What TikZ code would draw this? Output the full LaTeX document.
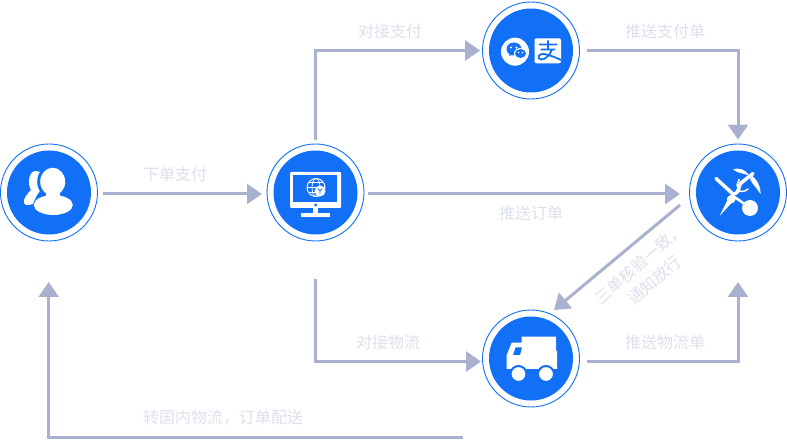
\documentclass[tikz,border=0pt]{standalone}
\usepackage{xcolor}
\usepackage{fontspec}
\setmainfont{Noto Sans CJK SC}
\usetikzlibrary{arrows.meta,positioning}

\definecolor{hubblue}{HTML}{1170F5}
\definecolor{flowgray}{HTML}{A9B1CF}
\definecolor{notegray}{HTML}{DDE0EC}

\tikzset{
    hub/.style={circle, draw=hubblue, line width=0.9pt, fill=white, minimum size=97pt, inner sep=0pt},
    hubcore/.style={circle, fill=hubblue, minimum size=84pt, inner sep=0pt},
    flow/.style={color=flowgray, line width=3pt, -{Triangle[length=15pt,width=20pt]}},
    note/.style={text=notegray, font=\fontsize{16}{19}\selectfont, inner sep=0pt, align=center}
}

\begin{document}
\begin{tikzpicture}[x=1pt, y=-1pt]
    \useasboundingbox (0,0) rectangle (787,443);

    % hubs
    \node[hub] (user) at (49,192.5) {};
    \node[hubcore] (usercore) at (user) {};
    \node[hub] (monitor) at (315.5,192.5) {};
    \node[hubcore] (monitorcore) at (monitor) {};
    \node[hub] (pay) at (531,50.5) {};
    \node[hubcore] (paycore) at (pay) {};
    \node[hub] (customs) at (738,192.5) {};
    \node[hubcore] (customscore) at (customs) {};
    \node[hub] (truck) at (531,358.5) {};
    \node[hubcore] (truckcore) at (truck) {};

    % free ends
    \coordinate (monitordown) at (315.5,279);
    \coordinate (userup) at (48.7,282);
    \coordinate (fraudup) at (738,282);
    \coordinate (truckback) at (463,437);
    \coordinate (diagfrom) at (680,205);
    \coordinate (diagto) at (554,310);
    \coordinate (truckin) at (481,361.5);
    \coordinate (truckout) at (587,361.5);
    \coordinate (orderin) at (262,194);
    \coordinate (orderout) at (103,194);
    \coordinate (pushin) at (680,194);
    \coordinate (pushout) at (368,194);

    % connectors
    \draw[flow] (orderout) -- (orderin);
    \draw[flow] (pushout) -- (pushin);
    \draw[flow, shorten <=4pt, shorten >=2pt] (monitor.north) |- (pay.west);
    \draw[flow, shorten <=7pt, shorten >=4pt] (pay.east) -| (customs.north);
    \draw[flow] (diagfrom) -- (diagto);
    \draw[flow] (monitordown) |- (truckin);
    \draw[flow] (truckout) -| (fraudup);
    \draw[flow] (truckback) -| (userup);

    % labels
    \node[note] (ordertext) at (175,174) {下单支付};
    \node[note] (paytext) at (390,31) {对接支付};
    \node[note] (paybilltext) at (665,31) {推送支付单};
    \node[note] (pushtext) at (531,213) {推送订单};
    \node[note] (logtext) at (388,342) {对接物流};
    \node[note] (logbilltext) at (665,342) {推送物流单};
    \node[note] (hometext) at (223,418) {转国内物流，订单配送};
    \node[note, rotate=41] (checktext) at (647,272) {三单核验一致，\\[3pt]通知放行};

    % user icon
    \fill[white] (35,171) .. controls (29,172) and (27,183) .. (31,190)
        .. controls (27,194) and (23,199) .. (24,203)
        .. controls (25,206) and (29,205) .. (33,204)
        .. controls (36,196) and (39,191) .. (42,189)
        .. controls (38,183) and (38,176) .. (41,172) -- cycle;
    \fill[hubblue] (52.7,181.7) ellipse (15.5pt and 17pt);
    \fill[white] (52.7,181.7) ellipse (12.5pt and 14pt);
    \fill[white] (53.3,205) ellipse (19.5pt and 10pt);
    \fill[white] (46,188) rectangle (60,198);

    % monitor icon
    \fill[white, rounded corners=1pt] (290,172) rectangle (341,208);
    \fill[hubblue] (293,175) rectangle (337,202);
    \fill[hubblue] (315.7,205) circle (1.6pt);
    \fill[white] (313,208) rectangle (318,214);
    \fill[white] (301,213.5) rectangle (330,217);
    \draw[white, line width=0.9pt] (316,187.5) circle (9pt);
    \draw[white, line width=0.8pt] (316,187.5) ellipse (4pt and 9pt);
    \draw[white, line width=0.8pt] (307,187.5) -- (325,187.5);
    \draw[white, line width=0.8pt] (308.5,182.5) -- (323.5,182.5);
    \draw[white, line width=0.8pt] (308.5,192.5) -- (323.5,192.5);
    \fill[white] (320,191) circle (5.5pt);
    \draw[hubblue, line width=0.8pt] (318,188.5) -- (320,191) -- (322,188.5) (320,191) -- (320,194.5);

    % payment icons
    \fill[white] (515,51.7) circle (14pt);
    \fill[hubblue] (514,49) ellipse (7.5pt and 6.5pt);
    \fill[hubblue] (509,56) -- (511,51) -- (514,54) -- cycle;
    \fill[white] (520.5,53.5) ellipse (6.5pt and 5.5pt);
    \fill[hubblue] (520.5,53.5) ellipse (5.5pt and 4.5pt);
    \fill[white] (511,47.5) circle (1.2pt) (516.5,47.5) circle (1.2pt);
    \fill[white] (518.5,52.5) circle (0.9pt) (522.5,52.5) circle (0.9pt);
    \fill[white, rounded corners=2pt] (534.5,38.3) rectangle (561,63.3);
    \draw[hubblue, line width=1.8pt]
        (539,44.5) -- (557,44.5)
        (548,40.5) -- (548,49)
        (540.5,49.5) -- (555,49.5)
        (552,49.5) .. controls (550,55) and (545,60) .. (541,59.5)
        .. controls (536,58.5) and (539,53) .. (544,54)
        .. controls (549,55) and (555,57) .. (561,60);

    % customs icon
    \draw[white, line width=3.5pt, line cap=round] (716,178.5) -- (733.5,194.5);
    \fill[white] (719.5,216) -- (727,201) .. controls (726,197) and (730,194) .. (734,195)
        .. controls (737,197) and (736,203) .. (731,203.5) -- cycle;
    \draw[white, line width=2.5pt] (733,196) -- (746,205);
    \fill[white] (750,208) circle (8pt);
    \draw[white, line width=3.5pt, line cap=round] (735,194) .. controls (740,191) and (738,186) .. (741,183)
        -- (753,173.5);
    \draw[white, line width=1.5pt, line cap=round] (739,191) .. controls (742,192) and (746,191) .. (748,189)
        (738,187) .. controls (735,186) and (740,180) .. (739,179.5);
    \fill[white] (733,169.5) .. controls (738,167.5) and (745,168.5) .. (749,175.5)
        .. controls (744,173.5) and (738,173.5) .. (733,169.5) -- cycle;
    \fill[white] (752.5,176) .. controls (757,180) and (761,186) .. (760.5,194)
        .. controls (757,188) and (752,184) .. (750,179) -- cycle;

    % truck icon
    \fill[white] (521.7,336.7) -- (556,336.7) -- (556,351) -- (557,351) -- (557,369) -- (506.7,369)
        -- (506.7,355) -- (511.7,342.7) -- (521.7,342.7) -- cycle;
    \fill[hubblue] (515.7,347.3) -- (522,347.3) -- (520,355) -- (513,355) -- cycle;
    \fill[white, draw=hubblue, line width=2pt] (518.5,374) circle (8pt);
    \fill[white, draw=hubblue, line width=2pt] (546,374) circle (8pt);
\end{tikzpicture}
\end{document}
